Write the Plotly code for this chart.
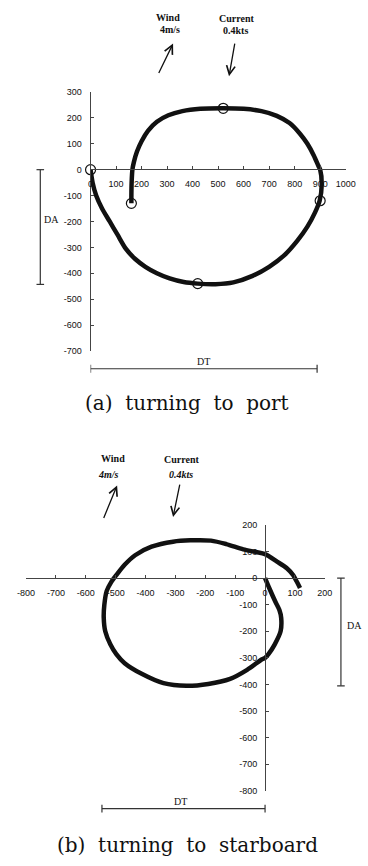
import plotly.graph_objects as go

# ---------------- data: (a) turning to port ----------------
port_x = [0, 8, 22, 45, 75, 105, 138, 175, 215, 260, 310, 365, 420, 490, 560,
          635, 700, 760, 810, 850, 880, 898, 906, 900, 893, 875, 850, 820, 780, 730,
          670, 600, 520, 430, 360, 305, 260, 225, 200, 182, 170, 164, 161, 160, 160]
port_y = [0, -50, -100, -150, -200, -250, -305, -345, -375, -400, -420, -434, -440, -442, -435,
          -410, -375, -330, -275, -220, -165, -120, -60, 0, 15, 55, 100, 140, 180, 208,
          226, 235, 237, 235, 226, 210, 185, 150, 110, 70, 30, 0, -50, -100, -130]
port_mark_x = [0, 420, 900, 520, 160]
port_mark_y = [0, -440, -120, 237, -130]
DA_port = 443
DT_port = 888

# ---------------- data: (b) turning to starboard ----------------
stbd_x = [0, 15, 35, 48, 54, 52, 32, 12, 0, -10, -60, -117, -190, -263, -340,
          -413, -470, -498, -518, -535, -540, -538, -530, -515, -498, -470, -435, -380, -308, -250,
          -181, -130, -73, -30, 0, 40, 73, 95, 105, 117]
stbd_y = [0, -40, -90, -120, -150, -200, -250, -285, -300, -305, -345, -379, -398, -405, -395,
          -360, -320, -286, -249, -200, -149, -100, -48, -15, 11, 50, 86, 118, 137, 142,
          141, 128, 108, 98, 90, 62, 37, 10, -11, -37]
DA_stbd = 405
DT_stbd = 546

port_xticks = list(range(0, 1001, 100))
port_yticks = list(range(-700, 301, 100))
stbd_xticks = list(range(-800, 201, 100))
stbd_yticks = list(range(-800, 201, 100))

W, H = 368, 866
def px(x):
    return x / W
def py(y):
    return 1 - y / H

LINE = '#111111'
AX = '#444444'
tickfont = dict(family='Liberation Sans, Arial, sans-serif', size=9, color='#111')
serif = 'Liberation Serif, Times New Roman, serif'

fig = go.Figure()
fig.add_trace(go.Scatter(x=port_x, y=port_y, mode='lines', xaxis='x', yaxis='y',
                         line=dict(color=LINE, width=4.5, shape='spline', smoothing=0.8),
                         hoverinfo='skip'))
fig.add_trace(go.Scatter(x=port_mark_x, y=port_mark_y, mode='markers', xaxis='x', yaxis='y',
                         marker=dict(symbol='circle-open', size=10, color=LINE, line=dict(width=1.2)),
                         cliponaxis=False, hoverinfo='skip'))
fig.add_trace(go.Scatter(x=stbd_x, y=stbd_y, mode='lines', xaxis='x2', yaxis='y2',
                         line=dict(color=LINE, width=4.5, shape='spline', smoothing=0.8),
                         hoverinfo='skip'))

def lab(v):
    return str(v).replace('\u2212', '-')

common = dict(showgrid=False, zeroline=False, showline=True, linecolor=AX, linewidth=1,
              ticks='inside', ticklen=3, tickcolor=AX, tickfont=tickfont, fixedrange=True,
              ticklabelstandoff=6)

fig.update_layout(
    width=W, height=H, autosize=False,
    margin=dict(l=0, r=0, t=0, b=0),
    paper_bgcolor='white', plot_bgcolor='white', showlegend=False,
    xaxis=dict(domain=[px(86), px(355)], range=[0, 1000], anchor='free', position=py(166),
               tickvals=port_xticks, ticktext=[lab(v) for v in port_xticks], **common),
    yaxis=dict(domain=[py(350), py(88)], range=[-700, 300], anchor='x',
               tickvals=port_yticks, ticktext=[lab(v) for v in port_yticks], **common),
    xaxis2=dict(domain=[px(18), px(333)], range=[-800, 200], anchor='free', position=py(580),
                tickvals=stbd_xticks, ticktext=[lab(v) for v in stbd_xticks], **common),
    yaxis2=dict(domain=[py(795), py(526)], range=[-800, 200], anchor='free', position=px(270),
                tickvals=stbd_yticks, ticktext=[lab(v) for v in stbd_yticks], **common),
)

shapes = []
BR = dict(color='#333', width=1.2)
# DA bracket (port)
shapes.append(dict(type='line', xref='paper', yref='y', x0=px(33), x1=px(33), y0=0, y1=-DA_port, line=BR))
for yv in (0, -DA_port):
    shapes.append(dict(type='line', xref='paper', yref='y', x0=px(29), x1=px(37), y0=yv, y1=yv, line=BR))
# DT bracket (port)
shapes.append(dict(type='line', xref='x', yref='paper', x0=0, x1=DT_port, y0=py(368), y1=py(368), line=BR))
for xv in (0, DT_port):
    shapes.append(dict(type='line', xref='x', yref='paper', x0=xv, x1=xv, y0=py(364), y1=py(372), line=BR))
# DA bracket (starboard)
shapes.append(dict(type='line', xref='paper', yref='y2', x0=px(350), x1=px(350), y0=0, y1=-DA_stbd, line=BR))
for yv in (0, -DA_stbd):
    shapes.append(dict(type='line', xref='paper', yref='y2', x0=px(346), x1=px(354), y0=yv, y1=yv, line=BR))
# DT bracket (starboard)
shapes.append(dict(type='line', xref='x2', yref='paper', x0=-DT_stbd, x1=0, y0=py(813), y1=py(813), line=BR))
for xv in (-DT_stbd, 0):
    shapes.append(dict(type='line', xref='x2', yref='paper', x0=xv, x1=xv, y0=py(809), y1=py(817), line=BR))
fig.update_layout(shapes=shapes)

ann = []
def text(x, y, s, size=10, family=serif, xanchor='center'):
    ann.append(dict(xref='paper', yref='paper', x=px(x), y=py(y), text=s, showarrow=False,
                    xanchor=xanchor, yanchor='middle', font=dict(family=family, size=size, color='#111')))
def arrow(x0, y0, x1, y1):
    ann.append(dict(xref='paper', yref='paper', x=px(x1), y=py(y1), ax=x0 - x1, ay=y0 - y1,
                    text='', showarrow=True, arrowhead=5, arrowsize=1.3, arrowwidth=1.3,
                    arrowcolor='#111'))

# port annotations
text(168, 13, '<b>Wind</b>')
text(170, 25, '<b>4m/s</b>')
text(240, 14, '<b>Current</b>')
text(239, 26, '<b>0.4kts</b>')
arrow(158, 70, 173, 39)
arrow(238, 38, 232, 72)
text(45, 217, 'DA', size=10)
text(205, 361, 'DT', size=10)
text(188, 403, '(a)\u00a0\u00a0turning\u00a0\u00a0to\u00a0\u00a0port', size=20, family='DejaVu Serif, serif')

# starboard annotations
text(110, 459, '<b>Wind</b>')
text(105, 475, '<b><i>4m/s</i></b>')
text(182, 460, '<b>Current</b>')
text(181, 475, '<b><i>0.4kts</i></b>')
arrow(100, 520, 114, 486)
arrow(180, 484, 173, 518)
text(354, 628, 'DA', size=10, xanchor='left')
text(181, 806, 'DT', size=10)
text(188, 850, '(b)\u00a0\u00a0turning\u00a0\u00a0to\u00a0\u00a0starboard', size=20, family='DejaVu Serif, serif')

fig.update_layout(annotations=ann)
fig.write_html('out.html', config={'displayModeBar': False, 'staticPlot': True},
               post_script="document.body.style.margin='0';document.body.style.overflow='hidden';")
